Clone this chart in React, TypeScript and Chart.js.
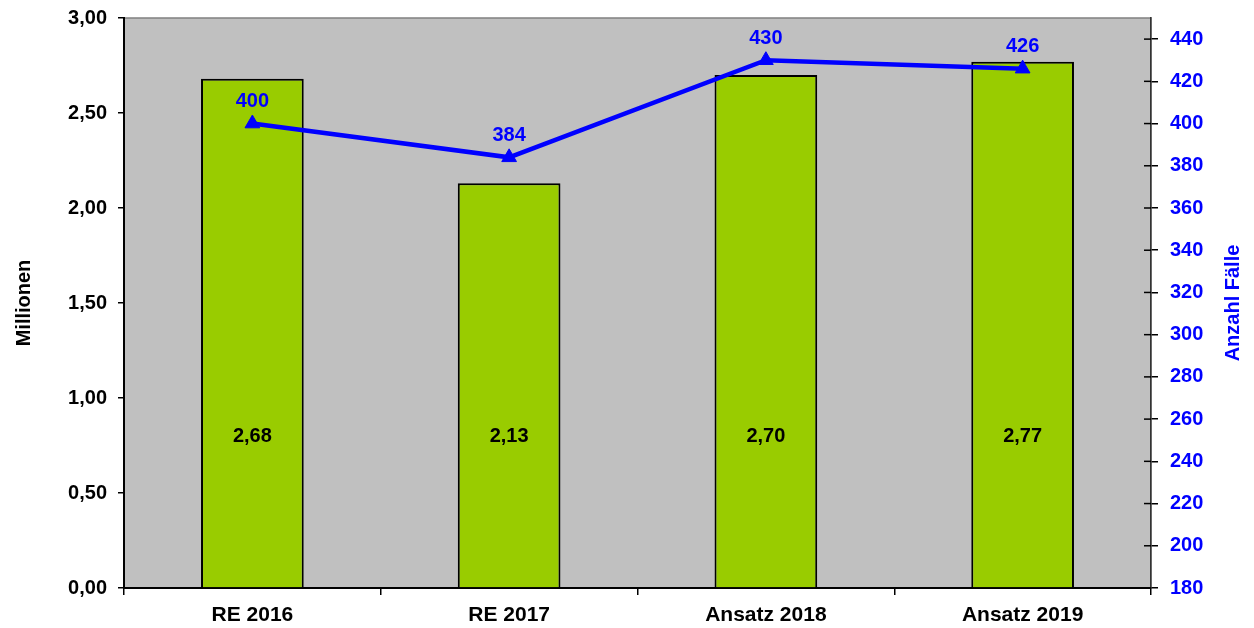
import React, { useEffect, useRef } from 'react';
import { Chart, registerables } from 'chart.js';

Chart.register(...registerables);

const CATEGORIES = ['RE 2016', 'RE 2017', 'Ansatz 2018', 'Ansatz 2019'];
const MILLIONS = [2.68, 2.13, 2.7, 2.77];
const CASES = [400, 384, 430, 426];
const LEFT_TICKS = [0, 0.5, 1, 1.5, 2, 2.5, 3];
const RIGHT_TICKS = [180, 200, 220, 240, 260, 280, 300, 320, 340, 360, 380, 400, 420, 440];
const LEFT_TITLE = 'Millionen';
const RIGHT_TITLE = 'Anzahl Fälle';
const BAR_LABEL_LEVEL = 0.8;

const FONT = '"Liberation Sans", Arial, sans-serif';
const fmt = (v: number) => v.toFixed(2).replace('.', ',');

const decoPlugin = {
  id: 'deco',
  beforeDraw(chart: any) {
    const { ctx, chartArea: a } = chart;
    ctx.save();
    ctx.fillStyle = '#C0C0C0';
    ctx.fillRect(a.left, a.top, a.right - a.left, a.bottom - a.top);
    ctx.strokeStyle = '#808080';
    ctx.lineWidth = 1.5;
    ctx.strokeRect(a.left, a.top, a.right - a.left, a.bottom - a.top);
    ctx.restore();
  },
  afterDatasetsDraw(chart: any) {
    const { ctx } = chart;
    const yScale = chart.scales.y;
    ctx.save();
    ctx.textAlign = 'center';
    ctx.textBaseline = 'middle';
    ctx.font = `bold 20px ${FONT}`;
    ctx.fillStyle = '#000000';
    const barMeta = chart.getDatasetMeta(0);
    barMeta.data.forEach((el: any, i: number) => {
      ctx.fillText(fmt(MILLIONS[i]), el.x, yScale.getPixelForValue(BAR_LABEL_LEVEL));
    });
    ctx.fillStyle = '#0000FF';
    const lineMeta = chart.getDatasetMeta(1);
    lineMeta.data.forEach((el: any, i: number) => {
      ctx.fillText(String(CASES[i]), el.x, el.y - 22);
    });
    ctx.restore();
  },
  afterDraw(chart: any) {
    const { ctx, chartArea: a } = chart;
    const y1 = chart.scales.y1;
    ctx.save();
    ctx.strokeStyle = '#000000';
    ctx.lineWidth = 1.5;
    y1.ticks.forEach((t: any) => {
      const py = y1.getPixelForValue(t.value);
      ctx.beginPath();
      ctx.moveTo(a.right - 7, py);
      ctx.lineTo(a.right, py);
      ctx.stroke();
    });
    const midY = (a.top + a.bottom) / 2;
    ctx.font = `bold 20px ${FONT}`;
    ctx.textAlign = 'center';
    ctx.textBaseline = 'middle';
    ctx.fillStyle = '#000000';
    ctx.translate(24, midY);
    ctx.rotate(-Math.PI / 2);
    ctx.fillText(LEFT_TITLE, 0, 0);
    ctx.restore();
    ctx.save();
    ctx.font = `bold 20px ${FONT}`;
    ctx.textAlign = 'center';
    ctx.textBaseline = 'middle';
    ctx.fillStyle = '#0000FF';
    ctx.translate(1233, midY);
    ctx.rotate(-Math.PI / 2);
    ctx.fillText(RIGHT_TITLE, 0, 0);
    ctx.restore();
  },
};

const zeroPad = (s: any) => {
  s.paddingTop = 0;
  s.paddingBottom = 0;
  s.paddingLeft = 0;
  s.paddingRight = 0;
};

export default function App() {
  const ref = useRef<HTMLCanvasElement | null>(null);
  useEffect(() => {
    if (!ref.current) return;
    const chart = new Chart(ref.current, {
      type: 'bar',
      data: {
        labels: CATEGORIES,
        datasets: [
          {
            type: 'bar',
            label: 'Millionen',
            data: MILLIONS,
            yAxisID: 'y',
            backgroundColor: '#99CC00',
            borderColor: '#000000',
            borderWidth: 2,
            barPercentage: 0.4,
            categoryPercentage: 1,
            order: 2,
          } as any,
          {
            type: 'line',
            label: 'Anzahl Fälle',
            data: CASES,
            yAxisID: 'y1',
            borderColor: '#0000FF',
            borderWidth: 4.5,
            pointStyle: 'triangle',
            pointRadius: 8.5,
            pointBackgroundColor: '#0000FF',
            pointBorderColor: '#0000FF',
            pointBorderWidth: 1,
            tension: 0,
            order: 1,
          } as any,
        ],
      },
      options: {
        responsive: false,
        maintainAspectRatio: false,
        animation: false,
        layout: { padding: { top: 18, left: 0, right: 0, bottom: 0 } },
        plugins: {
          legend: { display: false },
          tooltip: { enabled: false },
        },
        scales: {
          x: {
            grid: { display: true, drawOnChartArea: false, tickLength: 7, color: '#000000', lineWidth: 1.5, offset: true },
            border: { color: '#000000', width: 2 },
            ticks: { color: '#000000', font: { family: FONT, size: 21, weight: 'bold' }, padding: 8, maxRotation: 0 },
            afterFit: (s: any) => { s.height = 40; zeroPad(s); },
          },
          y: {
            position: 'left',
            min: 0,
            max: 3,
            afterBuildTicks: (s: any) => { s.ticks = LEFT_TICKS.map((v) => ({ value: v })); },
            grid: { display: true, drawOnChartArea: false, tickLength: 6, color: '#000000', lineWidth: 1.5 },
            border: { color: '#000000', width: 2 },
            ticks: { color: '#000000', font: { family: FONT, size: 20, weight: 'bold' }, padding: 11, callback: (v: any) => fmt(Number(v)) },
            afterFit: (s: any) => { s.width = 124; zeroPad(s); },
          },
          y1: {
            position: 'right',
            min: 180,
            max: 450,
            afterBuildTicks: (s: any) => { s.ticks = RIGHT_TICKS.map((v) => ({ value: v })); },
            grid: { display: true, drawOnChartArea: false, tickLength: 7, color: '#000000', lineWidth: 1.5 },
            border: { color: '#333333', width: 1.5 },
            ticks: { color: '#0000FF', font: { family: FONT, size: 20, weight: 'bold' }, padding: 12, callback: (v: any) => String(v) },
            afterFit: (s: any) => { s.width = 103; zeroPad(s); },
          },
        },
      } as any,
      plugins: [decoPlugin],
    });
    return () => chart.destroy();
  }, []);
  return (
    <div style={{ position: 'absolute', left: 0, top: 0, width: 1254, height: 628, background: '#ffffff' }}>
      <canvas ref={ref} width={1254} height={628} style={{ display: 'block', width: 1254, height: 628 }} />
    </div>
  );
}
